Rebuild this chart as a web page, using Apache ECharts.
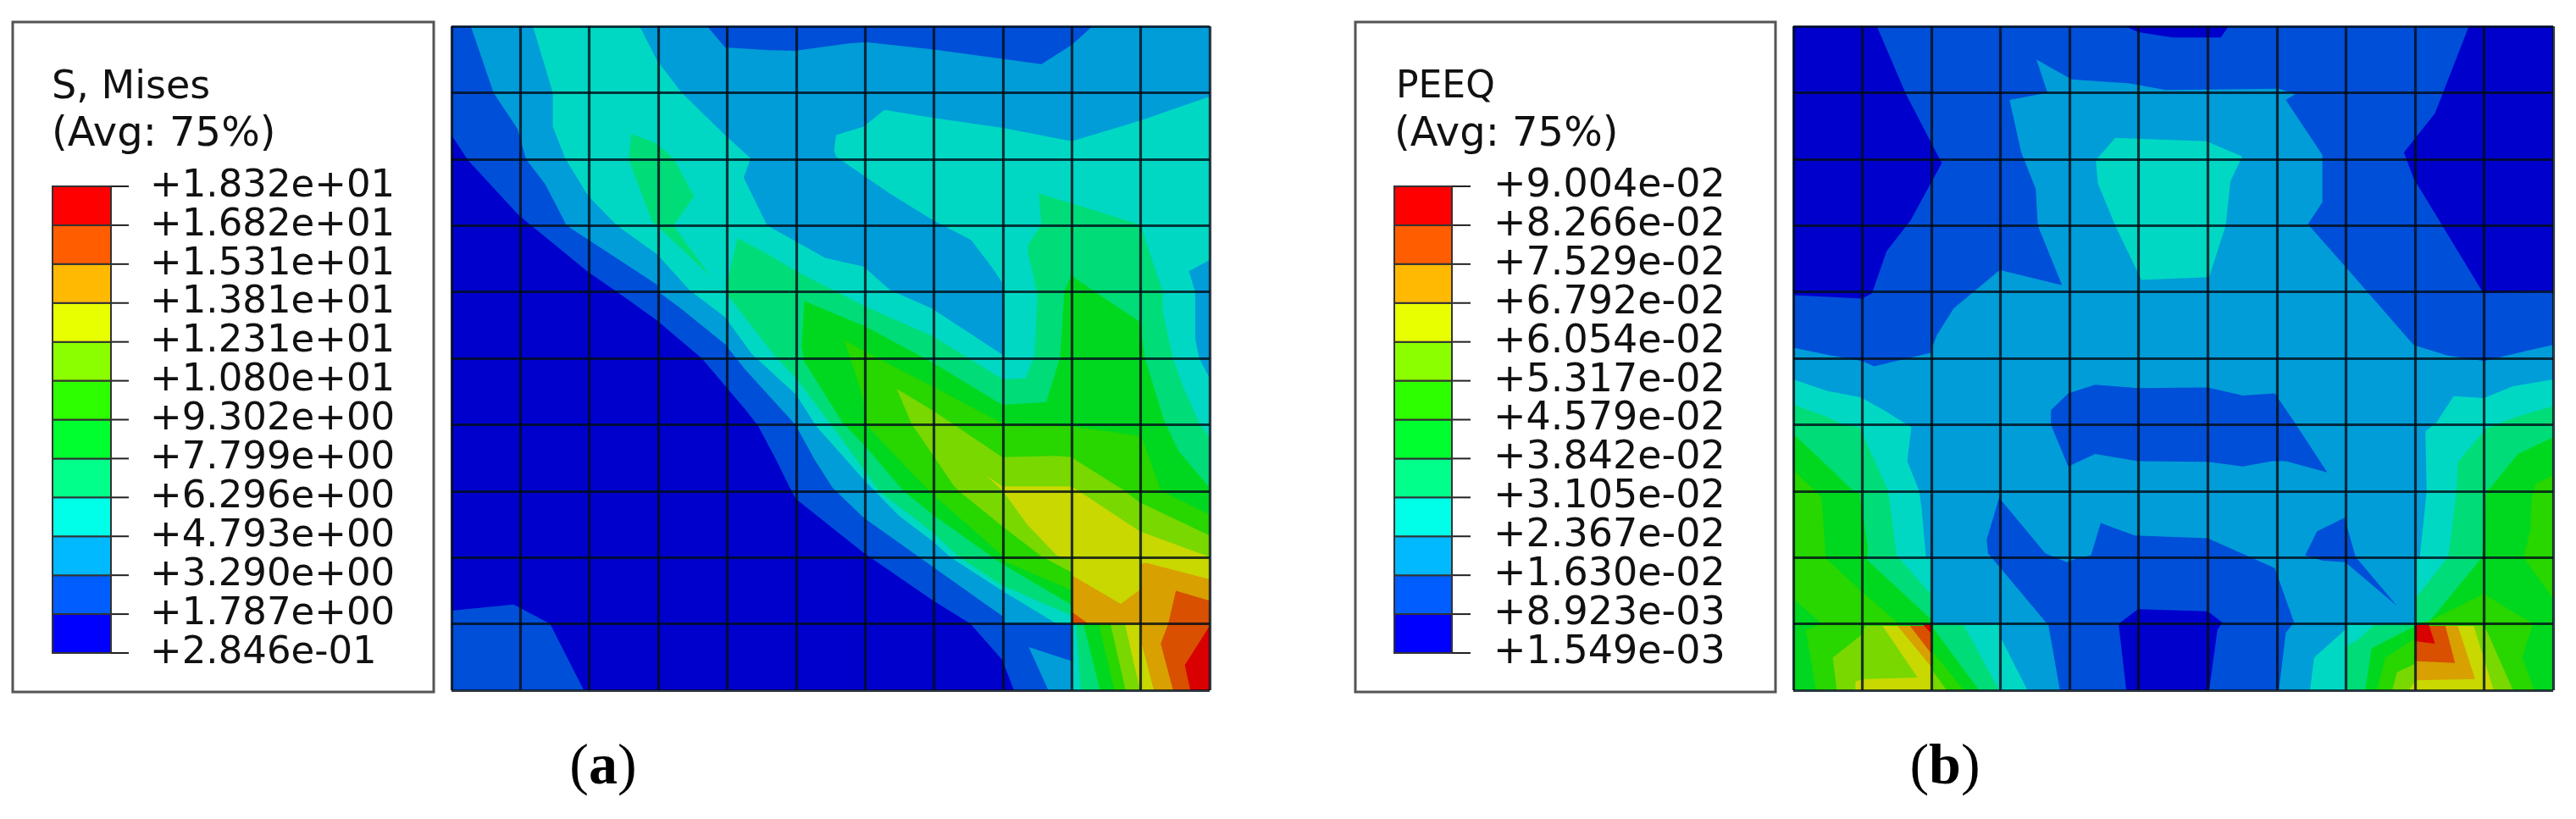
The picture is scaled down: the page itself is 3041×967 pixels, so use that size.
<!DOCTYPE html>
<html style="height: 100%">

<head>
    <meta charset="utf-8">
</head>

<body style="height: 100%; margin: 0; background: #fff">
    <div id="main" style="height: 100%"></div>
    <script src="https://cdn.jsdelivr.net/npm/echarts@6/dist/echarts.min.js"></script>
    <script type="text/javascript">

        // legend tick labels, top to bottom
        var misesLabels = ['+1.832e+01', '+1.682e+01', '+1.531e+01', '+1.381e+01', '+1.231e+01', '+1.080e+01', '+9.302e+00',
            '+7.799e+00', '+6.296e+00', '+4.793e+00', '+3.290e+00', '+1.787e+00', '+2.846e-01'];
        var peeqLabels = ['+9.004e-02', '+8.266e-02', '+7.529e-02', '+6.792e-02', '+6.054e-02', '+5.317e-02', '+4.579e-02',
            '+3.842e-02', '+3.105e-02', '+2.367e-02', '+1.630e-02', '+8.923e-03', '+1.549e-03'];

        // band colours, lowest band first
        var legendColors = ['#0000ff', '#005dff', '#00b9ff', '#00ffe8', '#00ff8b', '#00ff2e', '#2eff00', '#8bff00', '#e8ff00', '#ffb900', '#ff5d00', '#ff0000'];
        var plotColors = ['#0000cd', '#004fd8', '#009dd8', '#00d8c4', '#00dc78', '#00d820', '#28d600', '#78d800', '#c8d800', '#d8a000', '#d85000', '#d80000'];

        // contour outlines, in mesh units (element column, element row from the top)
        var wholeMesh = [[0, 0], [11, 0], [11, 10], [0, 10]];

        // S, Mises
        var misesL1 = [[0, 0], [11, 0], [11, 10], [8.16, 10], [7.99, 9.54], [7.53, 9], [6.99, 8.65], [5.98, 7.93], [5, 7.12], [4.91, 6.95], [4.69, 6.49], [4.45, 6.02], [4.26, 5.77], [3.63, 5], [2.98, 4.43], [2.4, 4], [1.98, 3.7], [0.98, 2.85], [0.24, 2.02], [0, 1.64]];
        var misesL1Corner = [[0, 8.8], [0.9, 8.71], [1.43, 9], [1.92, 10], [0, 10]];
        var misesL2 = [[0.28, 0], [3.71, 0], [3.97, 0.32], [4.62, 0.36], [4.98, 0.37], [5.74, 0.26], [6.01, 0.24], [7, 0.35], [8.56, 0.57], [9, 0.28], [9.3, 0], [11, 0], [11, 10], [9, 10], [9, 9], [8, 9], [7.99, 8.88], [6.78, 7.99], [5.98, 7.4], [5.53, 6.95], [5.27, 6.53], [5, 6.02], [4.97, 5.98], [4.26, 5.17], [3.97, 4.79], [3.34, 4.26], [3, 4], [2.98, 3.89], [1.98, 3.21], [1.67, 3], [1.36, 2.38], [1.08, 2], [0.96, 1.55], [0.61, 1]];
        var misesL2Wedge = [[8.375, 9.35], [9, 9.56], [9, 10], [8.66, 10]];
        var misesL3 = [[1.18, 0], [2.73, 0], [2.98, 0.51], [3.34, 1], [3.97, 1.64], [4.34, 1.99], [4.24, 2.28], [4.58, 3], [4.98, 3.23], [5.42, 3.49], [5.98, 3.62], [6.36, 3.97], [6.97, 4.25], [8, 4.95], [7.99, 3.86], [7.84, 3.63], [7.54, 3.22], [6.97, 2.91], [6.36, 2.52], [5.63, 2], [5.58, 1.96], [5.55, 1.87], [5.58, 1.64], [5.98, 1.51], [6.28, 1.26], [7, 1.38], [8, 1.53], [9, 1.73], [10, 1.42], [11, 1.06], [11, 3.52], [10.7, 3.69], [10.79, 4], [10.79, 4.71], [10.85, 5], [11, 5.3], [11, 10], [9, 10], [9, 9], [8.78, 9], [7.99, 8.5], [7.23, 7.99], [6.99, 7.76], [6.5, 7.38], [6, 6.85], [5.29, 6.02], [5, 5.55], [4.36, 4.94], [3.97, 4.38], [3.46, 3.98], [2.98, 3.43], [2.4, 3], [1.98, 2.55], [1.65, 1.99], [1.47, 1.51], [1.47, 1]];
        var misesL4Spot = [[2.61, 1.62], [2.98, 1.77], [3.22, 1.99], [3.52, 2.56], [3.22, 3], [3.75, 3.76], [3.02, 3.04], [2.91, 2.94], [2.57, 2]];
        var misesL4 = [[4.15, 3.19], [4.6, 3.44], [5, 3.69], [6, 4.22], [6.99, 4.67], [8, 5.32], [8.33, 5.3], [8.46, 4.96], [8.5, 4.03], [8.37, 3.44], [8.36, 3.3], [8.56, 2.99], [8.52, 2.52], [9, 2.67], [10, 2.99], [10.14, 3.44], [10.32, 4], [10.32, 4.3], [10.47, 5], [10.6, 5.39], [10.85, 5.98], [11, 6.19], [11, 10], [9.13, 10], [9.06, 9], [9, 9], [9, 8.9], [8.96, 8.86], [7.99, 8.42], [7.36, 7.99], [6.99, 7.63], [6.2, 7], [6, 6.7], [5.49, 5.98], [5, 5.3], [4.69, 4.96], [4.26, 4.39], [3.97, 4], [3.99, 3.91]];
        var misesL5 = [[5.12, 4.14], [6, 4.52], [6.99, 5.07], [7.99, 5.7], [8.63, 5.66], [8.83, 4.99], [8.89, 4], [8.99, 3.75], [9.32, 3.99], [9.99, 4.45], [10.06, 4.99], [10.34, 5.94], [10.55, 6.4], [11, 6.95], [11, 10], [9.41, 10], [9.17, 9], [9, 9], [9, 8.75], [8.96, 8.69], [7.99, 8.1], [6.99, 7.36], [6.55, 6.99], [6, 6.32], [5.68, 5.98], [5.12, 5.05], [5.08, 4.83]];
        var misesL6 = [[5.7, 4.73], [6, 4.9], [6.99, 5.43], [7.99, 5.98], [8.99, 6.02], [9.99, 6.17], [10.03, 6.23], [10.29, 6.99], [11, 7.36], [11, 10], [9.62, 10], [9.39, 9], [9, 9], [9, 8.5], [8.96, 8.48], [8, 8.05], [7.99, 7.97], [6.93, 7], [6.03, 6.02], [6, 5.81], [5.96, 5.56]];
        var misesL7 = [[6.46, 5.46], [6.99, 5.79], [7.99, 6.49], [8.78, 6.47], [8.99, 6.49], [9.73, 6.97], [9.99, 7.17], [11, 7.67], [11, 10], [9.78, 10], [9.56, 9], [9, 9], [8.99, 8.22], [8.57, 7.99], [7.99, 7.53], [7.36, 7], [7.28, 6.91], [6.67, 5.98]];
        var misesL8 = [[7.75, 6.76], [7.99, 6.93], [9, 6.93], [9.99, 7.61], [11, 7.99], [11, 10], [9.99, 10], [9.77, 9], [9, 9], [9, 8.03], [8.78, 7.97], [8.35, 7.5], [8, 7]];
        var misesL9 = [[9, 8.27], [9.71, 8.7], [9.97, 8.5], [10, 8.45], [10, 8.1], [10.08, 8.08], [11, 8.33], [11, 10], [10.19, 10], [10.01, 9.28], [10, 9], [9, 9]];
        var misesL10 = [[10.51, 8.5], [11, 8.65], [11, 10], [10.47, 10], [10.29, 9.3], [10.4, 9]];
        var misesL10Sliver = [[9, 8.82], [9.24, 9], [9, 9]];
        var misesL11 = [[11, 9.03], [10.64, 9.62], [10.72, 10], [11, 10]];

        // PEEQ
        var peeqL1 = [[1.21, 0], [4.8, 0], [5, 0.09], [5.49, 0.17], [6.19, 0.17], [6.3, 0], [9.78, 0], [9.29, 1.31], [8.84, 1.9], [8.98, 2.29], [9.99, 4.02], [11, 3.98], [11, 10], [6.02, 10], [6.14, 9.09], [6.21, 8.98], [6, 8.81], [4.99, 8.78], [4.71, 9], [4.82, 10], [0, 10], [0, 4.05], [1, 4.1], [1.14, 4.02], [1.35, 3.39], [1.7, 2.92], [2.15, 2.06], [1.63, 1.02]];
        var peeqL2 = [[0, 4.84], [0.55, 4.96], [1, 5.04], [1.17, 5.12], [1.98, 4.92], [2.08, 4.65], [2.32, 4.25], [2.99, 3.67], [3.89, 3.9], [3.54, 3], [3.51, 2.45], [3.3, 1.9], [3.13, 1.11], [3.68, 1], [3.52, 0.5], [4.03, 0.8], [4.87, 0.86], [5.39, 0.96], [7.03, 0.94], [7.27, 1.02], [7.13, 1.11], [7.66, 1.94], [7.66, 2.65], [7.45, 2.98], [8, 3.63], [8.98, 4.8], [9.47, 4.96], [10, 5.04], [10.65, 4.88], [11, 4.8], [11, 10], [7.03, 10], [7.13, 9.13], [7.21, 9.03], [7.25, 8.98], [6.97, 8.16], [6, 7.71], [4.94, 7.67], [4.45, 7.48], [4.31, 7.97], [4.12, 8.01], [3.96, 8.07], [3.65, 7.94], [2.98, 7.1], [2.8, 7.73], [2.82, 7.94], [3, 8.16], [3.66, 8.98], [3.69, 9], [3.86, 10], [0, 10]];
        var peeqL1Lens = [[3.98, 5.53], [4.37, 5.4], [4.99, 5.45], [6, 5.44], [6.51, 5.56], [6.97, 5.53], [7.26, 5.97], [7.73, 6.72], [7.13, 6.55], [6.93, 6.55], [6.51, 6.63], [6, 6.56], [4.99, 6.55], [4.37, 6.44], [3.98, 6.63], [3.73, 6], [3.73, 5.78]];
        var peeqL1Spike = [[7.41, 7.97], [7.58, 7.61], [7.98, 7.4], [8.14, 7.99], [8.74, 8.73], [7.99, 8.07], [7.67, 8.05]];
        var peeqL3Dome = [[4.66, 1.68], [5.98, 1.73], [6.5, 1.96], [6.33, 2.33], [6.26, 3], [6.02, 3.78], [5.04, 3.82], [4.66, 3], [4.41, 2.37], [4.38, 2.02]];
        var peeqL3Left = [[0, 5.32], [0.49, 5.49], [0.98, 5.59], [1.31, 5.78], [1.71, 6.04], [1.65, 6.55], [1.82, 6.99], [1.86, 7.27], [1.92, 8], [2, 8], [2, 9], [3, 9], [3, 9.2], [3.39, 10], [0, 10]];
        var peeqL3Right = [[11, 5.32], [11, 10], [7.48, 10], [7.54, 9.51], [8, 9.08], [8, 9], [9, 9], [9, 8], [9.07, 7.99], [9.11, 7.6], [9.17, 6.99], [9.15, 6.1], [9.31, 5.97], [9.56, 5.57], [10, 5.6], [10.42, 5.42]];
        var peeqL4Left = [[0, 5.7], [0.41, 5.85], [0.73, 6], [0.96, 6.04], [1.18, 6.55], [1.37, 6.99], [1.41, 7.27], [1.5, 7.99], [1.55, 8.03], [1.98, 8.54], [2, 9], [2.47, 9.02], [2.98, 10], [0, 10]];
        var peeqL4Right = [[11, 5.72], [11, 10], [8, 10], [8, 9.34], [8.16, 9.25], [8.4, 9.02], [9, 9], [9.02, 8.6], [9.48, 7.99], [9.54, 7.52], [9.6, 7.01], [9.62, 6.56], [10.03, 6.06], [10.42, 5.9]];
        var peeqL5Left = [[0, 6.14], [0.37, 6.5], [0.86, 6.99], [0.96, 7.01], [1.08, 7.88], [1.06, 8.03], [1.98, 8.92], [2, 9.03], [2.69, 10], [0, 10]];
        var peeqL5Right = [[11, 6.19], [11, 10], [8.28, 10], [8.37, 9.37], [9, 9.03], [9.21, 8.96], [9.97, 8], [10.03, 7.01], [10.14, 6.89], [10.49, 6.44]];
        var peeqL6Left = [[0, 6.69], [0.29, 6.97], [0.41, 7.1], [0.47, 7.99], [0.49, 8.03], [0.98, 8.5], [1.51, 8.98], [2, 9.4], [2.47, 10], [0.33, 10], [0.18, 9.09], [0.41, 9], [0, 8.62]];
        var peeqL6Edge = [[11, 6.76], [10.75, 6.89], [10.69, 7.1], [10.67, 7.6], [10.57, 7.99], [11, 8.62]];
        var peeqL6Right = [[9.2, 8.96], [9.99, 8.55], [10.71, 9], [10.55, 9.51], [10.73, 10], [8.45, 10], [8.57, 9.51], [9, 9.22], [9, 9]];
        var peeqL7Left = [[0.57, 9.51], [0.98, 9.17], [1.04, 9.03], [2, 9.03], [2, 9.68], [2.22, 10], [0.63, 10]];
        var peeqL7Right = [[9, 9.6], [9, 9.03], [10, 9.03], [10.05, 9.13], [10.42, 10], [8.67, 10], [8.74, 9.73]];
        var peeqL8Left = [[1.29, 9.03], [2, 9.03], [2, 10], [0.9, 10], [0.9, 9.87], [1.02, 9.83], [1.8, 9.81]];
        var peeqL8Right = [[8.91, 10], [9, 9.87], [9, 9.03], [9.85, 9.03], [10.14, 10]];
        var peeqL9Left = [[1.51, 9.03], [2, 9.03], [2, 9.65]];
        var peeqL9Right = [[9, 9.03], [9.62, 9.03], [9.87, 9.83], [9, 9.85]];
        var peeqL10Left = [[1.69, 9.03], [2, 9.03], [2, 9.45]];
        var peeqL10Right = [[9, 9.03], [9.44, 9.03], [9.58, 9.59], [9, 9.56]];
        var peeqL11Left = [[1.88, 9.01], [2, 9.01], [2, 9.15]];
        var peeqL11Right = [[9, 9.01], [9.2, 9.01], [9.29, 9.3], [9, 9.26]];

        // [band, outline], painted in this order so higher bands cover lower ones
        var misesRegions = [[0, wholeMesh], [1, misesL1], [1, misesL1Corner], [2, misesL2], [2, misesL2Wedge], [3, misesL3],
            [4, misesL4Spot], [4, misesL4], [5, misesL5], [6, misesL6], [7, misesL7], [8, misesL8], [9, misesL9],
            [10, misesL10], [10, misesL10Sliver], [11, misesL11]];
        var peeqRegions = [[0, wholeMesh], [1, peeqL1], [2, peeqL2], [1, peeqL1Lens], [1, peeqL1Spike], [3, peeqL3Dome],
            [3, peeqL3Left], [3, peeqL3Right], [4, peeqL4Left], [4, peeqL4Right], [5, peeqL5Left], [5, peeqL5Right],
            [6, peeqL6Left], [6, peeqL6Edge], [6, peeqL6Right], [7, peeqL7Left], [7, peeqL7Right], [8, peeqL8Left], [8, peeqL8Right],
            [9, peeqL9Left], [9, peeqL9Right], [10, peeqL10Left], [10, peeqL10Right], [11, peeqL11Left], [11, peeqL11Right]];

        var chartDom = document.getElementById('main');
        var myChart = echarts.init(chartDom);

        function meshAxis(max, inverse) {
            return {
                type: 'value', min: 0, max: max, interval: 1, inverse: inverse, z: 5,
                axisLine: { show: false }, axisTick: { show: false }, axisLabel: { show: false },
                splitLine: { show: true, lineStyle: { color: 'rgba(0,12,24,0.8)', width: 3.2 } }
            };
        }

        function contourSeries(idx, regions) {
            return {
                type: 'custom', xAxisIndex: idx, yAxisIndex: idx, silent: true,
                data: regions.map(function (r, i) { return [i]; }),
                renderItem: function (params, api) {
                    var region = regions[params.dataIndex];
                    return {
                        type: 'polygon',
                        shape: { points: region[1].map(function (p) { return api.coord(p); }) },
                        style: { fill: plotColors[region[0]] }
                    };
                }
            };
        }

        function legendAxis(labels, margin, size) {
            return {
                type: 'value', min: 0, max: 12, interval: 1, position: 'right', z: 5,
                axisLine: { show: false },
                axisTick: { show: false },
                axisLabel: {
                    margin: margin, fontFamily: 'DejaVu Sans', fontSize: size, color: '#111',
                    formatter: function (v) { return labels[12 - v]; }
                },
                splitLine: { show: false }
            };
        }

        function tickLine(x, y, len) {
            return {
                type: 'line',
                shape: { x1: x, y1: y, x2: x + len, y2: y },
                style: { stroke: '#222', lineWidth: 2 }
            };
        }

        // colour cell with the tick at its top edge, the lowest cell also gets the bottom tick
        function legendSeries(idx, tickLen) {
            return {
                type: 'custom', xAxisIndex: idx, yAxisIndex: idx, silent: true,
                data: legendColors.map(function (c, i) { return [i]; }),
                renderItem: function (params, api) {
                    var i = params.dataIndex;
                    var a = api.coord([0, i + 1]), b = api.coord([1, i]);
                    var children = [{
                        type: 'rect',
                        shape: { x: a[0], y: a[1], width: b[0] - a[0], height: b[1] - a[1] },
                        style: { fill: legendColors[i], stroke: '#333', lineWidth: 2 }
                    }, tickLine(b[0], a[1], tickLen)];
                    if (i === 0) {
                        children.push(tickLine(b[0], b[1], tickLen));
                    }
                    return { type: 'group', children: children };
                }
            };
        }

        function legendBox(left, right) {
            return {
                type: 'rect', silent: true,
                shape: { x: left, y: 26, width: right - left, height: 791 },
                style: { fill: '#fff', stroke: '#555', lineWidth: 3 }
            };
        }

        function boxText(text, x, y, size) {
            return {
                type: 'text', silent: true,
                style: { text: text, x: x, y: y, font: size + 'px "DejaVu Sans"', fill: '#111', verticalAlign: 'middle' }
            };
        }

        function caption(letter, x) {
            return {
                type: 'text', silent: true,
                style: {
                    text: '{p|(}{b|' + letter + '}{p|)}', x: x, y: 907, align: 'center', verticalAlign: 'middle',
                    rich: {
                        p: { font: '68px "Liberation Serif"', fill: '#000' },
                        b: { font: 'bold 68px "Liberation Serif"', fill: '#000' }
                    }
                }
            };
        }

        var option = {
            animation: false,
            backgroundColor: '#fff',
            graphic: [
                legendBox(15, 512), legendBox(1600, 2096),
                boxText('S, Mises', 61, 104, 46), boxText('(Avg: 75%)', 61, 160, 48),
                boxText('PEEQ', 1648, 104, 44), boxText('(Avg: 75%)', 1646, 160, 48),
                caption('a', 712), caption('b', 2296)
            ],
            grid: [
                { left: 533, width: 895, top: 31, height: 784 },
                { left: 2117, width: 897, top: 31, height: 784 },
                { left: 62, width: 69, top: 220, height: 551 },
                { left: 1646, width: 68, top: 220, height: 551 }
            ],
            xAxis: [
                Object.assign(meshAxis(11, false), { gridIndex: 0 }),
                Object.assign(meshAxis(11, false), { gridIndex: 1 }),
                { gridIndex: 2, type: 'value', min: 0, max: 1, show: false },
                { gridIndex: 3, type: 'value', min: 0, max: 1, show: false }
            ],
            yAxis: [
                Object.assign(meshAxis(10, true), { gridIndex: 0 }),
                Object.assign(meshAxis(10, true), { gridIndex: 1 }),
                Object.assign(legendAxis(misesLabels, 46, 45), { gridIndex: 2 }),
                Object.assign(legendAxis(peeqLabels, 49, 46), { gridIndex: 3 })
            ],
            series: [
                contourSeries(0, misesRegions),
                contourSeries(1, peeqRegions),
                legendSeries(2, 21),
                legendSeries(3, 22)
            ]
        };

        myChart.setOption(option);

    </script>
</body>

</html>
